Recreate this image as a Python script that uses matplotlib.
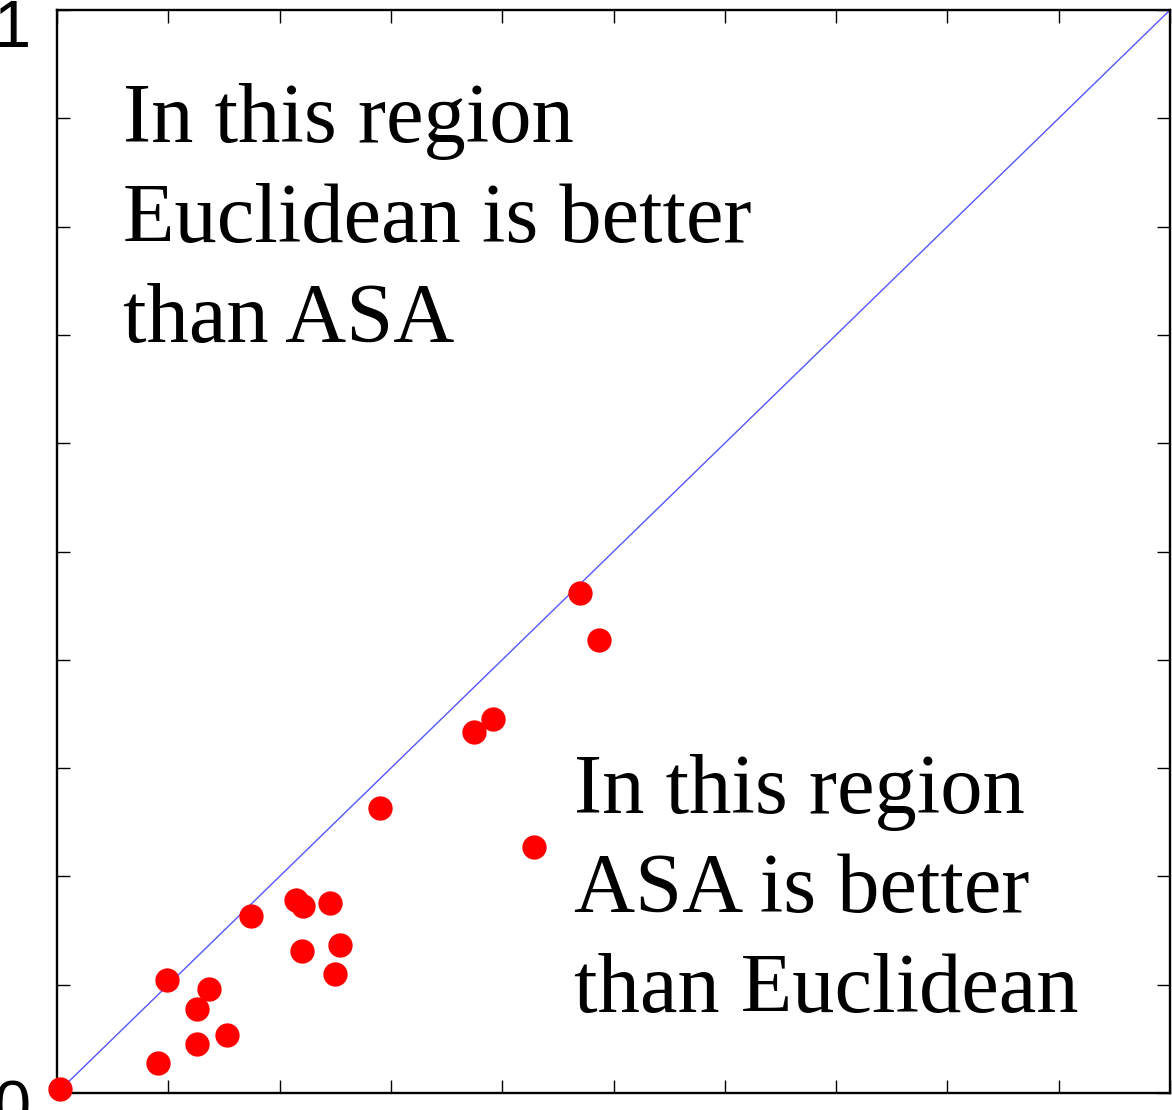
import matplotlib
matplotlib.use("Agg")
import matplotlib.pyplot as plt
import numpy as np

# Data (Euclidean error on x, ASA error on y)
euclid = [0.003, 0.091, 0.099, 0.126, 0.126, 0.137, 0.153, 0.174, 0.215, 0.221,
          0.245, 0.220, 0.254, 0.250, 0.290, 0.375, 0.392, 0.429, 0.470, 0.487]
asa = [0.004, 0.028, 0.104, 0.045, 0.078, 0.096, 0.054, 0.163, 0.178, 0.173,
       0.175, 0.131, 0.137, 0.110, 0.263, 0.333, 0.345, 0.227, 0.462, 0.418]
diag = [0, 1]
upper_text = ["In this region", "Euclidean is better", "than ASA"]
lower_text = ["In this region", "ASA is better", "than Euclidean"]
tick_vals = np.linspace(0, 1, 11)

W, H = 1172, 1110
fig = plt.figure(figsize=(W / 100, H / 100), dpi=100)
ax = fig.add_axes([57 / W, (H - 1093) / H, 1113 / W, 1083 / H])

ax.plot(diag, diag, color="#5555ff", lw=1.0, zorder=2)
ax.plot(euclid, asa, "o", color="#ff0000", markersize=17.5, markeredgewidth=0,
        clip_on=False, zorder=3)

ax.set_xlim(0, 1)
ax.set_ylim(0, 1)
ax.set_xticks(tick_vals)
ax.set_yticks(tick_vals)
ax.tick_params(direction="in", length=9.5, width=1.0, top=True, right=True,
               labelbottom=False, labelleft=False)
for s in ax.spines.values():
    s.set_linewidth(1.7)

serif = ["Liberation Serif", "DejaVu Serif"]
for i, line in enumerate(upper_text):
    ax.text(0.0595, 0.878 - 0.0923 * i, line, fontsize=60.8, family=serif,
            ha="left", va="baseline")
for i, line in enumerate(lower_text):
    ax.text(0.4645, 0.259 - 0.0923 * i, line, fontsize=60.8, family=serif,
            ha="left", va="baseline")

sans = ["Liberation Sans", "DejaVu Sans"]
fig.text(31 / W, 1 - 47 / H, "1", fontsize=48, family=sans, ha="right", va="baseline")
fig.text(31 / W, 1 - 1127 / H, "0", fontsize=48, family=sans, ha="right", va="baseline")

fig.savefig("out.png", dpi=100)
